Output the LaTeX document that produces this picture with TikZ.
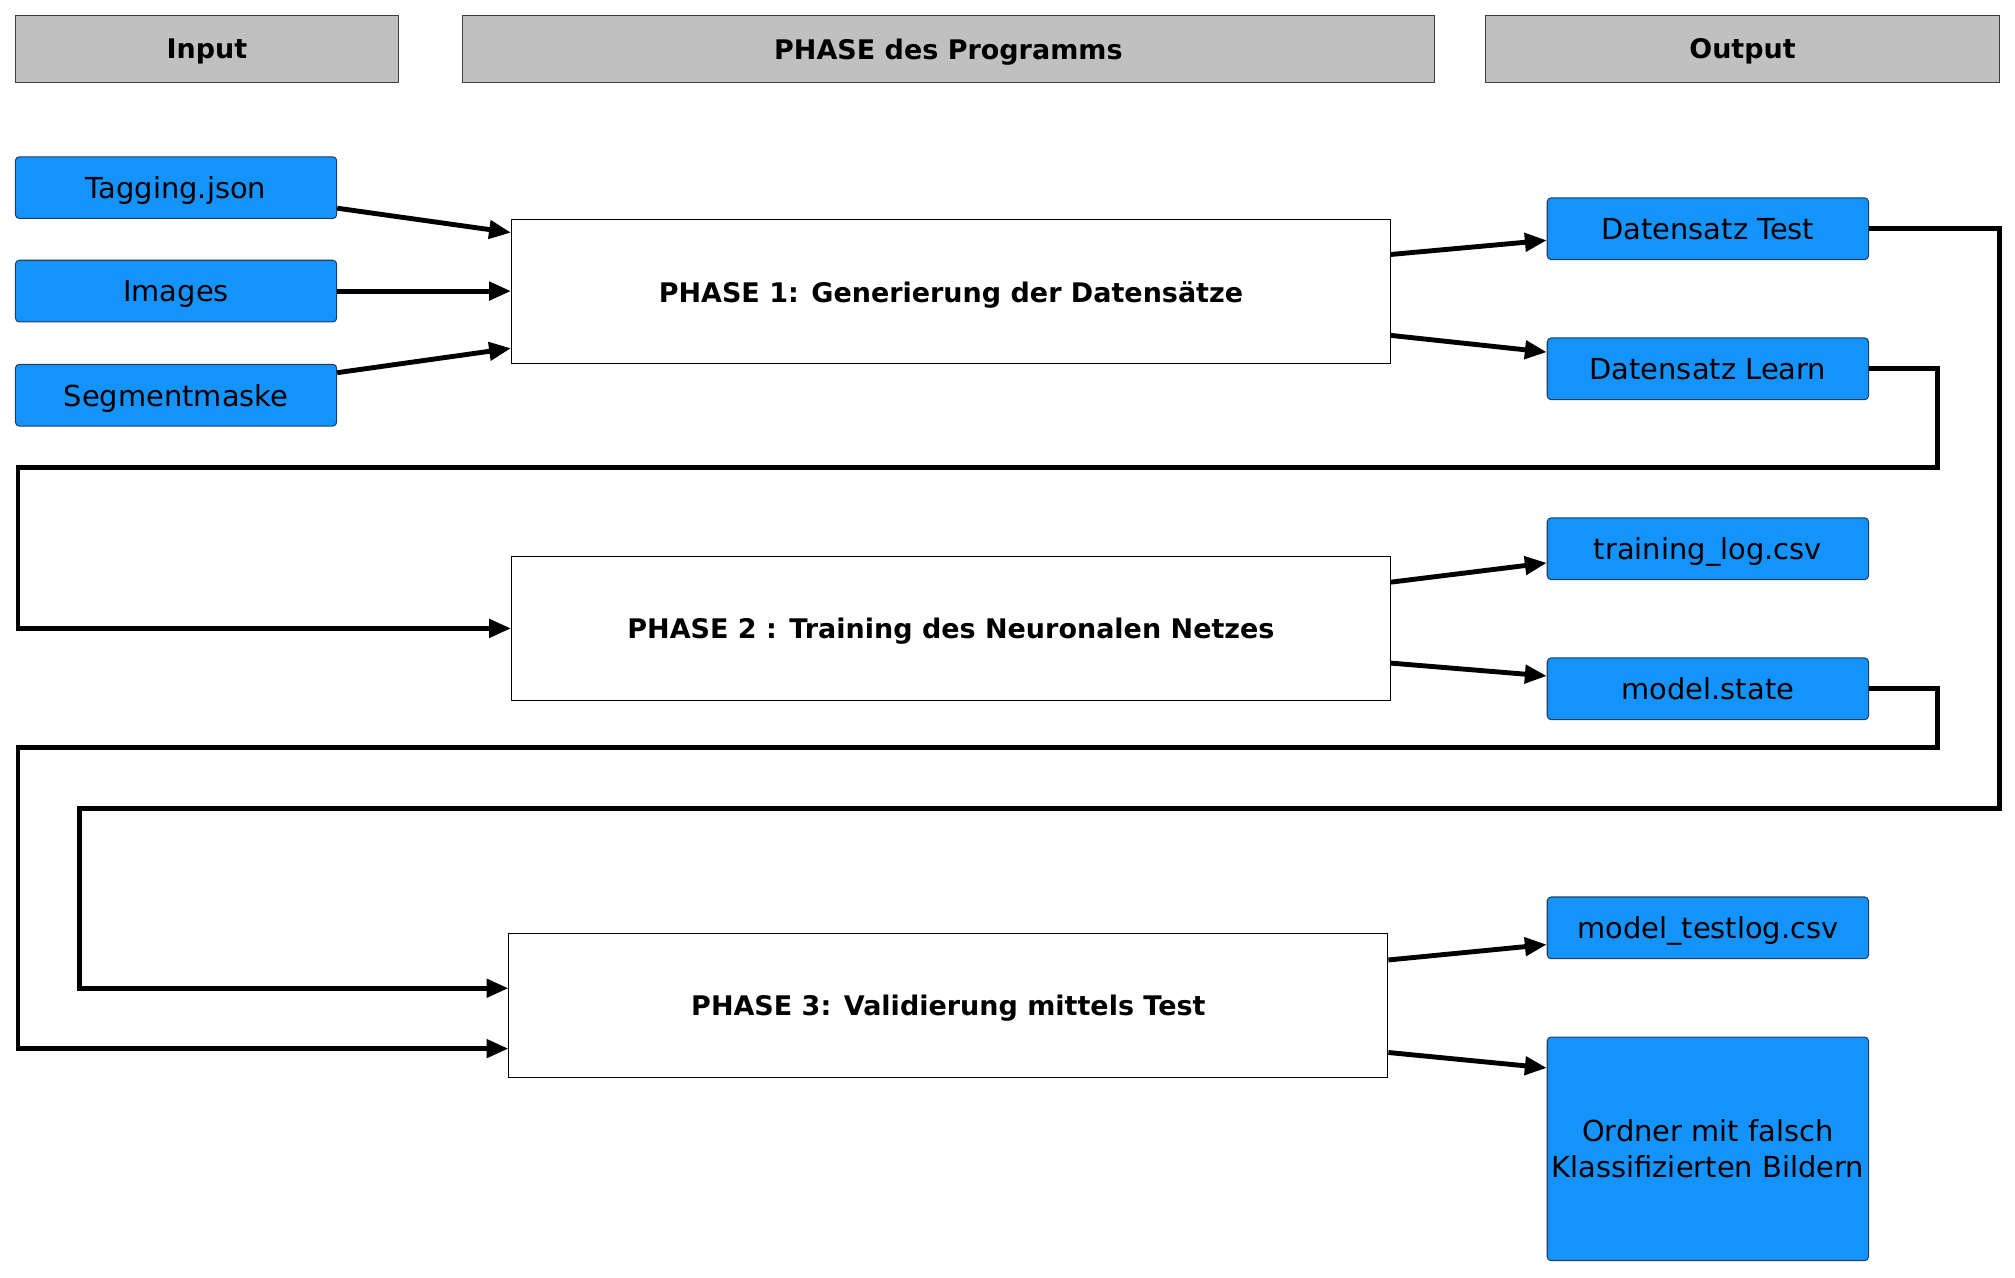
\documentclass[tikz,border=0pt]{standalone}
\usepackage{fontspec}
\setmainfont{DejaVu Sans}
\usetikzlibrary{arrows.meta}
\definecolor{hdrgray}{HTML}{C0C0C0}
\definecolor{fileblue}{HTML}{1493FB}
\definecolor{fileedge}{HTML}{1F3F60}
\begin{document}
\begin{tikzpicture}[x=1pt,y=-1pt,
  hdr/.style={draw=black!75,fill=hdrgray,line width=0.8pt,inner sep=0pt,text depth=0pt,
    font=\fontsize{21}{25}\selectfont\bfseries},
  filebox/.style={draw=fileedge,fill=fileblue,line width=0.8pt,rounded corners=3pt,
    inner sep=0pt,minimum width=250pt,minimum height=48pt,text depth=0pt,
    font=\fontsize{22.5}{28}\selectfont},
  phasebox/.style={draw=black,fill=white,line width=0.8pt,inner sep=0pt,text depth=0pt,
    minimum width=684pt,minimum height=112pt,
    font=\fontsize{21}{25}\selectfont\bfseries},
  conn/.style={line width=3.8pt,line join=miter,-{Triangle[length=17pt,width=14pt]}}]
\useasboundingbox (0,0) rectangle (1568,994);
% headers
\node[hdr,minimum width=298pt,minimum height=52pt] (hin) at (161,38) {Input};
\node[hdr,minimum width=756pt,minimum height=52pt] (hph) at (738,38) {PHASE des Programms};
\node[hdr,minimum width=400pt,minimum height=52pt] (hout) at (1356,38) {Output};
% inputs
\node[filebox] (tag) at (137,146) {Tagging.json};
\node[filebox] (img) at (137,226.5) {Images};
\node[filebox] (seg) at (137,307.5) {Segmentmaske};
% phases
\node[phasebox] (p1) at (740,227) {PHASE 1: Generierung der Datensätze};
\node[phasebox] (p2) at (740,489) {PHASE 2 : Training des Neuronalen Netzes};
\node[phasebox] (p3) at (738,782.5) {PHASE 3: Validierung mittels Test};
% outputs
\node[filebox] (test) at (1329,178) {Datensatz Test};
\node[filebox] (learn) at (1329,287) {Datensatz Learn};
\node[filebox] (tlog) at (1329,427) {training\_log.csv};
\node[filebox] (mstate) at (1329,536) {model.state};
\node[filebox] (mtlog) at (1329,722) {model\_testlog.csv};
\node[filebox,minimum height=174pt,align=center] (ordner) at (1329,894) {Ordner mit falsch\\Klassifizierten Bildern};
% input arrows
\draw[conn] ([yshift=-16pt]tag.east) -- ([yshift=46pt]p1.west);
\draw[conn] (img.east) -- (p1.west |- img.east);
\draw[conn] ([yshift=17.5pt]seg.east) -- ([yshift=-44pt]p1.west);
% output arrows
\draw[conn] ([yshift=29pt]p1.east) -- ([yshift=-9pt]test.west);
\draw[conn] ([yshift=-34pt]p1.east) -- ([yshift=13pt]learn.west);
\draw[conn] ([yshift=36pt]p2.east) -- ([yshift=-11pt]tlog.west);
\draw[conn] ([yshift=-27pt]p2.east) -- ([yshift=10pt]mstate.west);
\draw[conn] ([yshift=35.5pt]p3.east) -- ([yshift=-13pt]mtlog.west);
\draw[conn] ([yshift=-36.5pt]p3.east) -- ([yshift=63pt]ordner.west);
% loops
\draw[conn] (learn.east) -| (1508,364) -| (14,420) |- (p2.west);
\draw[conn] (mstate.east) -| (1508,582) -| (14,700) |- ([yshift=-33.5pt]p3.west);
\draw[conn] (test.east) -| (1556,629) -| (62,700) |- ([yshift=13.5pt]p3.west);
\end{tikzpicture}
\end{document}
